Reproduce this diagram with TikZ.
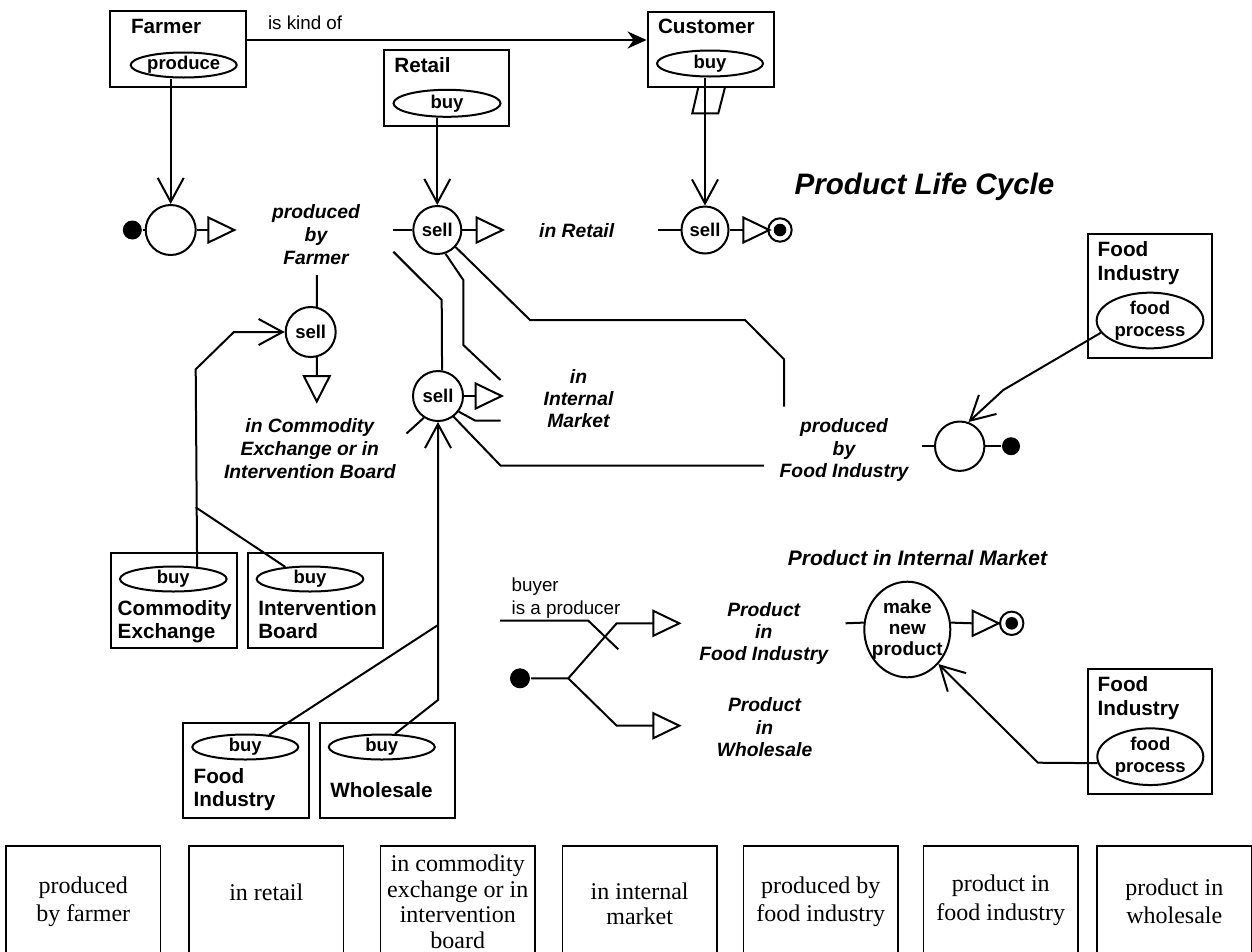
\documentclass[tikz,border=0pt]{standalone}
\usepackage{fontspec}
\setmainfont{Liberation Sans}
\newfontfamily\serifface{Liberation Serif}
\usetikzlibrary{arrows.meta,shapes.geometric}

\newcommand\ttlfont{\fontsize{20.7}{24.7}\selectfont\bfseries}
\newcommand\elfont{\fontsize{18.5}{21.6}\selectfont\bfseries}
\newcommand\stfont{\fontsize{19.3}{22.6}\selectfont\bfseries\itshape}
\newcommand\rgfont{\fontsize{18.8}{22.3}\selectfont}
\newcommand\hdfont{\fontsize{29.6}{34}\selectfont\bfseries\itshape}
\newcommand\subhdfont{\fontsize{21}{25}\selectfont\bfseries\itshape}
\newcommand\bxfont{\serifface\fontsize{24}{28.5}\selectfont}
% stacked lines whose baseline is the baseline of the first line
\newcommand\cstack[2]{\vtop{\baselineskip=#1\relax\halign{\hfil##\hfil\cr#2\crcr}}}
\newcommand\lstack[2]{\vtop{\baselineskip=#1\relax\halign{##\hfil\cr#2\crcr}}}
% output triangles (right / down)
\newcommand\rtri[1]{\draw[tri] (#1) ++(0,-12.5) -- ++(26,12.5) -- ++(-26,12.5) -- cycle;}
\newcommand\dtri[1]{\draw[tri] (#1) ++(-13,0) -- ++(26,0) -- ++(-13,25.5) -- cycle;}

\begin{document}
\begin{tikzpicture}[x=1pt,y=-1pt,line width=2pt,
  box/.style={draw,rectangle,inner sep=0pt,line width=2.2pt},
  ttl/.style={inner sep=0pt,anchor=base west,font=\ttlfont},
  ell/.style={draw,ellipse,inner sep=0pt,font=\elfont,align=center},
  st/.style={draw,circle,inner sep=0pt,minimum size=48pt,font=\elfont},
  dot/.style={circle,fill,inner sep=0pt,minimum size=19pt},
  final/.style={draw,circle,inner sep=0pt,minimum size=23.4pt,
    path picture={\fill (path picture bounding box.center) circle[radius=6.3pt];}},
  tri/.style={draw,fill=white},
  vee/.style={-{Straight Barb[length=24pt,width=26pt]}},
  kind/.style={-{Stealth[length=19pt,width=17pt,inset=6pt]}},
  lbl/.style={inner sep=0pt,anchor=base,font=\stfont},
  bbox/.style={draw,rectangle,inner sep=0pt,line width=1.2pt,minimum width=154.5pt,minimum height=114pt},
  btxt/.style={inner sep=0pt,anchor=base,font=\bxfont}]

\fill[white] (0,0) rectangle (1252,951);
\useasboundingbox (0,0) rectangle (1252,951);

% ---------- top row: Farmer, Retail, Customer ----------
\node[box,minimum width=136pt,minimum height=76pt] (farmer) at (178,49) {};
\node[ttl] (farmerT) at (130,33) {Farmer};
\node[ell,minimum width=106pt,minimum height=25pt] (produce) at (183.7,65) {produce};

\node[box,minimum width=126.6pt,minimum height=75.6pt] (customer) at (711,49.5) {};
\node[ttl] (customerT) at (657,33) {Customer};
\node[ell,minimum width=106pt,minimum height=26pt] (cbuy) at (710,63.5) {buy};

\node[box,minimum width=125.3pt,minimum height=76pt] (retail) at (446.7,88) {};
\node[ttl] (retailT) at (393.3,72.5) {Retail};
\node[ell,minimum width=107pt,minimum height=27pt] (rbuy) at (447,103.3) {buy};

\draw[kind] ([yshift=9pt]farmer.east) -- ([yshift=9pt]farmer.east -| customer.west);
\node[inner sep=0pt,anchor=base west,font=\rgfont] (kindL) at (267,29.5) {is kind of};

% ---------- Product Life Cycle ----------
\node[inner sep=0pt,anchor=base,font=\hdfont] (plc) at (924.5,194.5) {Product Life Cycle};

% initial state: produced by Farmer
\node[st,minimum size=50pt] (sf) at (170.7,230) {};
\node[dot] (sfdot) at (132.3,230) {};
\draw (sfdot) -- (sf);
\draw[vee] (produce.south -| sf) -- (sf.north);
\coordinate (tf) at (208.3,230);
\draw (sf) -- (tf);
\rtri{tf}
\node[lbl] (pbf) at (316,218.8) {\cstack{22.6pt}{produced\cr by\cr Farmer}};

% sell in retail
\node[st] (sell1) at (437.3,230) {sell};
\coordinate (s1in) at (393.3,230);
\draw (s1in) -- (sell1);
\coordinate (t1) at (476.7,230);
\draw (sell1) -- (t1);
\rtri{t1}
\draw[vee] (rbuy.south -| sell1) -- (sell1.north);
\node[lbl] (inretail) at (576.7,237) {in Retail};

% sell to customer
\node[st,minimum size=47pt] (sell3) at (705,230) {sell};
\coordinate (s3in) at (658.3,230);
\draw (s3in) -- (sell3);
\coordinate (t3) at (743.3,230);
\draw (sell3) -- (t3);
\rtri{t3}
\node[final] (end1) at (780,230) {};
\draw[vee] (cbuy.south -| sell3) -- (sell3.north);
\draw (698.3,87.3) -- (692.3,113.3) -- (718.3,113.3) -- (725,87.3);

% Food Industry (upper)
\node[box,minimum width=124.6pt,minimum height=124.3pt] (fi1) at (1150,296.2) {};
\node[ttl] (fi1T) at (1096.7,256) {\lstack{24.7pt}{Food\cr Industry}};
\node[ell,minimum width=106.7pt,minimum height=55.7pt,inner ysep=-3pt] (fp1) at (1150,320.5) {food\\process};
\node[st,minimum size=49.4pt] (sfi) at (959.7,446.2) {};
\coordinate (sfiin) at (921.7,446.2);
\draw (sfiin) -- (sfi);
\node[dot,minimum size=18pt] (sfidot) at (1011,446.2) {};
\draw (sfi) -- (sfidot);
\coordinate (fibend) at (1003.3,390);
\draw[vee] (fp1.194) -- (fibend) -- (sfi.70);
\node[lbl] (pbfi) at (844,432.5) {\cstack{22.6pt}{produced\cr by\cr Food Industry}};

% sell in commodity exchange / intervention board
\node[st,minimum size=50pt] (sellce) at (310.7,332) {sell};
\coordinate (pfdown) at (316.8,275);
\draw (pfdown) -- (sellce.76);
\coordinate (tce) at (316.8,376);
\draw (sellce.284) -- (tce);
\dtri{tce}
\node[lbl] (cel) at (309.8,432) {\cstack{23pt}{in Commodity\cr Exchange or in\cr Intervention Board}};

% sell in internal market
\node[st,minimum size=50pt] (sell2) at (438,396) {sell};
\coordinate (t2) at (475.7,396);
\draw (sell2) -- (t2);
\rtri{t2}
\coordinate (a0) at (393.3,251.7);
\coordinate (a1) at (441.7,300);
\draw (a0) -- (a1) -- (sell2.81);
\coordinate (b1) at (463.3,280);
\coordinate (b2) at (463.3,345);
\coordinate (b3) at (500.5,380);
\draw (sell1.289) -- (b1) -- (b2) -- (b3);
\coordinate (c1) at (530,320);
\coordinate (c2) at (745,320);
\coordinate (c3) at (784,359.3);
\coordinate (c4) at (784,406.7);
\draw (sell1.317) -- (c1) -- (c2) -- (c3) -- (c4);
\coordinate (d1) at (475,420.5);
\coordinate (d2) at (500.5,420.5);
\draw (sell2.323) -- (d1) -- (d2);
\coordinate (e1) at (500.5,465.5);
\coordinate (e2) at (764,465.5);
\draw (sell2.307) -- (e1) -- (e2);
\coordinate (f0) at (406.5,433.5);
\draw (f0) -- (sell2.237);
\node[lbl] (iim) at (578.5,383.5) {\cstack{22.2pt}{in\cr Internal\cr Market}};

% Commodity Exchange, Intervention Board
\node[box,minimum width=126pt,minimum height=95pt] (ce) at (173.7,600.8) {};
\node[ell,minimum width=106.7pt,minimum height=25pt] (ceb) at (173.3,579) {buy};
\node[ttl] (ceT) at (116.7,615) {\lstack{23.3pt}{Commodity\cr Exchange}};
\node[box,minimum width=135pt,minimum height=95pt] (ib) at (315.2,600.8) {};
\node[ell,minimum width=106.7pt,minimum height=25pt] (ibb) at (310,579) {buy};
\node[ttl] (ibT) at (257.3,615) {\lstack{23.3pt}{Intervention\cr Board}};
\coordinate (cebend1) at (195.7,369.3);
\coordinate (cebend2) at (233.9,332);
\draw[vee] (ceb.27) -- (cebend1) -- (cebend2) -- (sellce.west);
\coordinate (cej) at (195.7,507.3);
\draw (cej) -- (ibb.154);

% Food Industry, Wholesale (lower left)
\node[box,minimum width=125.7pt,minimum height=95.6pt] (fi3) at (246.2,770.5) {};
\node[ell,minimum width=106pt,minimum height=25pt] (fib) at (245.3,747) {buy};
\node[ttl] (fi3T) at (192.7,783.3) {\lstack{23.4pt}{Food\cr Industry}};
\node[box,minimum width=135pt,minimum height=95.6pt] (wh) at (387.5,770.5) {};
\node[ell,minimum width=106pt,minimum height=25pt] (whb) at (381.8,747) {buy};
\node[ttl] (whT) at (329.3,797.3) {Wholesale};
\coordinate (whbend) at (438,700);
\draw[vee] (whb.45) -- (whbend) -- (sell2.south);
\coordinate (fij) at (438,625);
\draw (fib.27) -- (fij);

% ---------- Product in Internal Market ----------
\node[inner sep=0pt,anchor=base,font=\subhdfont] (pim) at (917.5,565) {Product in Internal Market};
\node[inner sep=0pt,anchor=base west,font=\rgfont] (buyer) at (510.7,591.7) {\lstack{22.3pt}{buyer\cr is a producer}};
\coordinate (bp0) at (500,620.7);
\coordinate (bp1) at (588.3,620.7);
\coordinate (bp2) at (618.3,649.3);
\draw (bp0) -- (bp1) -- (bp2);
\node[dot,minimum size=20pt] (pdot) at (520,678.3) {};
\coordinate (pj) at (568.3,678.3);
\coordinate (pu) at (616.7,623.3);
\coordinate (tu) at (653.3,623.3);
\coordinate (pd) at (616.7,725.7);
\coordinate (td) at (653.3,725.7);
\draw (pdot) -- (pj) -- (pu) -- (tu);
\draw (pj) -- (pd) -- (td);
\rtri{tu}
\rtri{td}
\node[lbl] (pifi) at (763.7,616) {\cstack{22pt}{Product\cr in\cr Food Industry}};
\node[lbl] (piw) at (764.5,711.7) {\cstack{22.5pt}{Product\cr in\cr Wholesale}};

\node[ell,minimum width=86pt,minimum height=95.6pt,inner xsep=-12pt,
  font=\fontsize{19}{21}\selectfont\bfseries] (mnp) at (907.3,629.5) {make\\new\\product};
\coordinate (mnpin) at (845.5,623.3);
\draw (mnpin) -- (mnp.171);
\coordinate (t5) at (972.7,623.3);
\draw (mnp.9) -- (t5);
\rtri{t5}
\node[final] (end2) at (1011.7,623.3) {};

% Food Industry (lower right)
\node[box,minimum width=124pt,minimum height=124.7pt] (fi2) at (1150.3,731.7) {};
\node[ttl] (fi2T) at (1096.7,691) {\lstack{24.7pt}{Food\cr Industry}};
\node[ell,minimum width=106pt,minimum height=56.7pt,inner ysep=-3pt] (fp2) at (1150.3,756.7) {food\\process};
\coordinate (fp2bend) at (1038,762.7);
\draw[vee] (fp2.187) -- (fp2bend) -- (mnp.312);

% ---------- state legend boxes ----------
\node[bbox] (lb1) at (83.25,903) {};
\node[bbox] (lb2) at (266.25,903) {};
\node[bbox] (lb3) at (457.75,903) {};
\node[bbox] (lb4) at (639.65,903) {};
\node[bbox] (lb5) at (820.75,903) {};
\node[bbox] (lb6) at (1000.75,903) {};
\node[bbox] (lb7) at (1174.25,903) {};
\node[btxt] (lt1) at (83.25,893) {\cstack{28.5pt}{produced\cr by farmer}};
\node[btxt] (lt2) at (266.25,900) {in retail};
\node[btxt] (lt3) at (457.75,871.7) {\cstack{25.5pt}{in commodity\cr exchange or in\cr intervention\cr board}};
\node[btxt] (lt4) at (639.65,899) {\cstack{25.5pt}{in internal\cr market}};
\node[btxt] (lt5) at (820.75,893) {\cstack{28.5pt}{produced by\cr food industry}};
\node[btxt] (lt6) at (1000.75,891.5) {\cstack{28.5pt}{product in\cr food industry}};
\node[btxt] (lt7) at (1174.25,895) {\cstack{28pt}{product in\cr wholesale}};
\end{tikzpicture}
\end{document}
